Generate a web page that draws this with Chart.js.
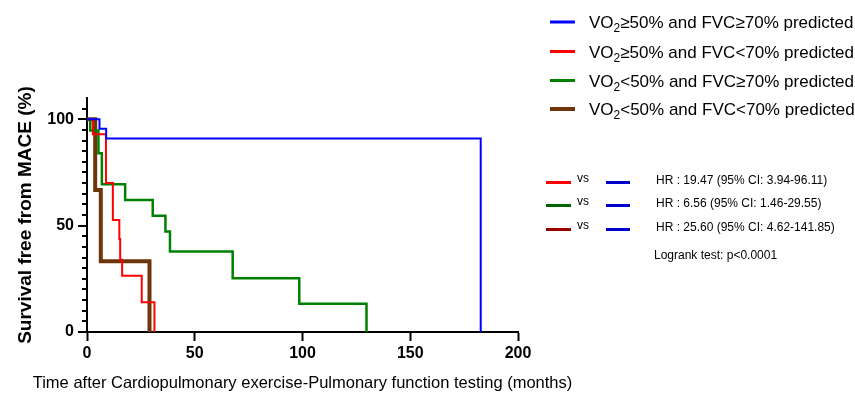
<!DOCTYPE html>
<html>
<head>
<meta charset="utf-8">
<script src="https://cdn.jsdelivr.net/npm/chart.js@4"></script>
<style>
  body { margin: 0; background: #fff; }
  #wrap { width: 855px; height: 396px; position: relative; }
</style>
</head>
<body>
<div id="wrap"><canvas id="kmChart"></canvas></div>
<script>
// group labels (₂ is drawn as a subscript 2)
const groupNames = [
  "VO₂≥50% and FVC≥70% predicted",
  "VO₂≥50% and FVC<70% predicted",
  "VO₂<50% and FVC≥70% predicted",
  "VO₂<50% and FVC<70% predicted"
];
const groupColors = ["#0000FF", "#FF0000", "#008000", "#6E340A"];
const groupWidths = [2, 2, 2.5, 4];

// Kaplan-Meier steps: time (months) and survival (%)
const blueTimes = [0, 5.8, 8.9, 182.7];
const blueSurv = [100, 95.6, 91, 0];
const redTimes = [0, 2.7, 8.8, 12, 15, 15.4, 16.3, 25.4, 31.3];
const redSurv = [100, 93, 70, 52.6, 43.7, 34, 26.5, 14, 0];
const greenTimes = [0, 1.5, 5.3, 6.9, 17.7, 30.5, 36.4, 38.5, 67.6, 98.5, 129.7];
const greenSurv = [100, 94.7, 84, 69.5, 62, 54.7, 47.2, 37.8, 25.3, 13.3, 0];
const brownTimes = [0, 3.8, 6.4, 29];
const brownSurv = [100, 66.7, 33.3, 0];

const xTicks = [0, 50, 100, 150, 200];
const yLabelled = [0, 50, 100];
const xTitle = "Time after Cardiopulmonary exercise-Pulmonary function testing (months)";

// hazard ratio box
const hrColors = ["#FF0000", "#006400", "#990000"];
const hrRefColor = "#0000CC";
const hrText = [
  "HR : 19.47 (95% CI: 3.94-96.11)",
  "HR : 6.56 (95% CI: 1.46-29.55)",
  "HR : 25.60 (95% CI: 4.62-141.85)"
];
const logrankText = "Logrank test: p<0.0001";

const FONT = '"Liberation Sans", Arial, sans-serif';
Chart.defaults.font.family = FONT;
Chart.defaults.color = "#000";

function toPoints(t, s) {
  return t.map((v, i) => ({ x: v, y: s[i] }));
}
const allTimes = [blueTimes, redTimes, greenTimes, brownTimes];
const allSurv = [blueSurv, redSurv, greenSurv, brownSurv];

// text with "₂" drawn as subscript
function drawRich(ctx, text, x, y, size) {
  const parts = text.split("₂");
  let cx = x;
  parts.forEach((p, i) => {
    ctx.font = size + "px " + FONT;
    ctx.fillText(p, cx, y);
    cx += ctx.measureText(p).width;
    if (i < parts.length - 1) {
      ctx.font = Math.round(size * 0.7) + "px " + FONT;
      ctx.fillText("2", cx, y + 4);
      cx += ctx.measureText("2").width;
    }
  });
}

const extras = {
  id: "extras",
  afterDraw(chart) {
    const ctx = chart.ctx;
    const y = chart.scales.y;
    const area = chart.chartArea;
    ctx.save();

    // y tick marks, minor every 5
    ctx.strokeStyle = "#000";
    ctx.lineWidth = 2;
    const ax = y.right;
    for (let v = 0; v <= 105; v += 5) {
      const py = Math.round(y.getPixelForValue(v));
      const len = v % 50 === 0 ? 9 : 5;
      ctx.beginPath();
      ctx.moveTo(ax - len, py);
      ctx.lineTo(ax, py);
      ctx.stroke();
    }

    // x axis title (drawn here so it is not squeezed to the plot width)
    ctx.fillStyle = "#000";
    ctx.font = "16.5px " + FONT;
    ctx.textAlign = "center";
    ctx.textBaseline = "middle";
    ctx.fillText(xTitle, (area.left + area.right) / 2, 383);
    ctx.textAlign = "left";

    // legend
    const legRows = [22, 51.5, 80.5, 109];
    ctx.textBaseline = "alphabetic";
    groupNames.forEach((name, i) => {
      ctx.strokeStyle = groupColors[i];
      ctx.lineWidth = i === 3 ? 4 : 3;
      ctx.beginPath();
      ctx.moveTo(550, legRows[i]);
      ctx.lineTo(575, legRows[i]);
      ctx.stroke();
      drawRich(ctx, name, 589, legRows[i] + 6, 17);
    });

    // hazard ratios
    const hrRows = [181, 204, 228];
    hrText.forEach((t, i) => {
      const ly = hrRows[i] + 1.5;
      ctx.lineWidth = 3;
      ctx.strokeStyle = hrColors[i];
      ctx.beginPath();
      ctx.moveTo(546, ly);
      ctx.lineTo(571, ly);
      ctx.stroke();
      ctx.strokeStyle = hrRefColor;
      ctx.beginPath();
      ctx.moveTo(606, ly);
      ctx.lineTo(630, ly);
      ctx.stroke();
      ctx.textBaseline = "middle";
      ctx.font = "12px " + FONT;
      ctx.fillText("vs", 577, hrRows[i] - 2);
      ctx.fillText(t, 656, hrRows[i]);
    });
    ctx.font = "12px " + FONT;
    ctx.fillText(logrankText, 654, 256);
    ctx.restore();
  }
};

new Chart(document.getElementById("kmChart"), {
  type: "line",
  data: {
    datasets: groupNames.map((name, i) => ({
      label: name,
      data: toPoints(allTimes[i], allSurv[i]),
      borderColor: groupColors[i],
      borderWidth: groupWidths[i],
      stepped: true,
      pointRadius: 0,
      fill: false
    }))
  },
  options: {
    responsive: true,
    maintainAspectRatio: false,
    animation: false,
    layout: { padding: { top: 98, right: 337, left: 0, bottom: 0 } },
    plugins: { legend: { display: false }, tooltip: { enabled: false } },
    scales: {
      x: {
        type: "linear",
        min: 0,
        max: 200,
        afterBuildTicks: (s) => { s.ticks = xTicks.map((v) => ({ value: v })); },
        afterFit: (s) => { s.height = 64; },
        ticks: { font: { size: 16, weight: "bold" }, padding: 3, color: "#000" },
        grid: { drawOnChartArea: false, tickLength: 9, tickWidth: 2, tickColor: "#000" },
        border: { color: "#000", width: 2 }
      },
      y: {
        min: 0,
        max: 110,
        afterBuildTicks: (s) => { s.ticks = yLabelled.map((v) => ({ value: v })); },
        afterFit: (s) => { s.width = 87; },
        ticks: { font: { size: 16, weight: "bold" }, padding: 5, color: "#000" },
        grid: { display: false },
        border: { color: "#000", width: 2 },
        title: {
          display: true,
          text: "Survival free from MACE (%)",
          font: { size: 19, weight: "bold" },
          color: "#000",
          padding: { top: 14, bottom: 0 }
        }
      }
    }
  },
  plugins: [extras]
});
</script>
</body>
</html>
